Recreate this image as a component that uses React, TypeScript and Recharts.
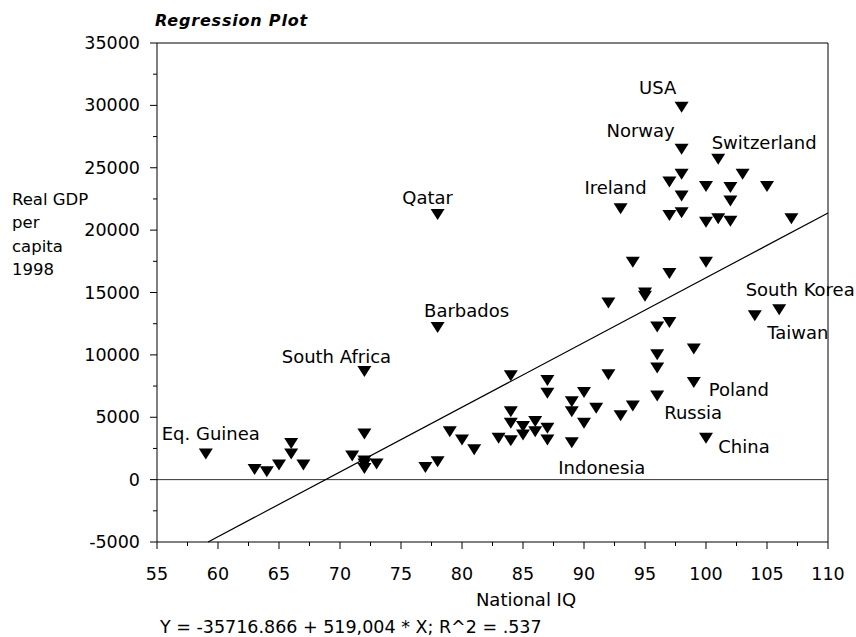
import React from "react";
import { ScatterChart, Scatter, XAxis, YAxis, ReferenceLine } from "recharts";

// National IQ vs Real GDP per capita 1998
const iq = [
  59, 63, 64, 65, 66, 66, 67, 71, 72, 72, 72, 72, 73, 72, 77, 78, 79, 80, 81,
  78, 78, 83, 84, 84, 84, 84, 85, 85, 86, 86, 87, 87, 87, 87, 89, 89, 89, 90,
  90, 91, 92, 93, 94, 96, 96, 96, 96, 97, 99, 99, 100, 104, 106, 92, 95, 95,
  94, 97, 100, 98, 98, 101, 98, 97, 100, 102, 103, 105, 98, 102, 93, 97, 98,
  100, 101, 102, 107,
];
const gdp = [
  2050, 820, 630, 1170, 2900, 2050, 1170, 1890, 3650, 1500, 900, 1250, 1250,
  8670, 980, 1430, 3840, 3180, 2400, 21260, 12200, 3310, 3120, 5450, 4520,
  8320, 3580, 4250, 4650, 3830, 4110, 3170, 6930, 7940, 2960, 5450, 6250,
  4520, 6980, 5720, 8400, 5130, 5910, 6710, 8940, 10010, 12230, 12600, 10470,
  7780, 3310, 13140, 13620, 14160, 14700, 14950, 17430, 16520, 17430, 29840,
  26490, 25680, 24480, 23860, 23490, 23410, 24480, 23490, 22730, 22330,
  21720, 21180, 21400, 20640, 20920, 20720, 20920,
];

const labelNames = [
  "USA", "Norway", "Switzerland", "Ireland", "Qatar", "Barbados",
  "South Africa", "Eq. Guinea", "South Korea", "Taiwan", "Poland", "Russia",
  "China", "Indonesia",
];
const labelIq = [98, 98, 101, 93, 78, 78, 72, 59, 106, 104, 99, 96, 100, 89];
const labelGdp = [
  29840, 26490, 25680, 21720, 21260, 12200, 8670, 2050, 13620, 13140, 7780,
  6710, 3310, 2960,
];

const xMajor = [55, 60, 65, 70, 75, 80, 85, 90, 95, 100, 105, 110];
const xTicks = [
  55, 57.5, 60, 62.5, 65, 67.5, 70, 72.5, 75, 77.5, 80, 82.5, 85, 87.5, 90,
  92.5, 95, 97.5, 100, 102.5, 105, 107.5, 110,
];
const yMajor = [-5000, 0, 5000, 10000, 15000, 20000, 25000, 30000, 35000];
const yTicks = [
  -5000, -2500, 0, 2500, 5000, 7500, 10000, 12500, 15000, 17500, 20000, 22500,
  25000, 27500, 30000, 32500, 35000,
];

const intercept = -35716.866;
const slope = 519.004;

const points = iq.map((v, i) => ({ iq: v, gdp: gdp[i] }));
const labelled = labelNames.map((n, i) => ({ name: n, iq: labelIq[i], gdp: labelGdp[i] }));

// text centre offsets (px) from each labelled marker
const labelOffset: Record<string, [number, number]> = {
  USA: [-24, -20],
  Norway: [-41, -19],
  Switzerland: [46, -17],
  Ireland: [-5, -21],
  Qatar: [-10, -17],
  Barbados: [29, -17],
  "South Africa": [-28, -15],
  "Eq. Guinea": [5, -21],
  "South Korea": [21, -20],
  Taiwan: [43, 17],
  Poland: [45, 7],
  Russia: [36, 17],
  China: [38, 8],
  Indonesia: [30, 25],
};

const FONT = "DejaVu Sans";

function AxisTick(props: any) {
  const { x, y, payload, side } = props;
  const v = payload.value;
  const major = side === "left" || side === "right" ? yMajor.includes(v) : xMajor.includes(v);
  const len = major ? 7 : 4;
  if (side === "left") {
    return (
      <g>
        <line x1={x - len} x2={x} y1={y} y2={y} stroke="#000" />
        {major && (
          <text x={x - 17} y={y} textAnchor="end" dominantBaseline="central" fontSize={17.5} fill="#000" fontFamily={FONT}>
            {v}
          </text>
        )}
      </g>
    );
  }
  if (side === "right") {
    return <line x1={x} x2={x + len} y1={y} y2={y} stroke="#000" />;
  }
  if (side === "top") {
    return <line x1={x} x2={x} y1={y - len} y2={y} stroke="#000" />;
  }
  return (
    <g>
      <line x1={x} x2={x} y1={y} y2={y + len} stroke="#000" />
      {major && (
        <text x={x} y={y + 38} textAnchor="middle" fontSize={17.5} fill="#000" fontFamily={FONT}>
          {v}
        </text>
      )}
    </g>
  );
}

function Triangle(props: any) {
  const { cx, cy } = props;
  return (
    <polygon
      points={`${cx - 7},${cy - 5.5} ${cx + 7},${cy - 5.5} ${cx},${cy + 5.5}`}
      fill="#000"
    />
  );
}

function CountryLabel(props: any) {
  const { cx, cy, payload } = props;
  const off = labelOffset[payload.name] || [0, -18];
  return (
    <text
      x={cx + off[0]}
      y={cy + off[1]}
      textAnchor="middle"
      dominantBaseline="central"
      fontSize={18}
      fontFamily={FONT}
      fill="#000"
    >
      {payload.name}
    </text>
  );
}

export default function App() {
  const xStart = (-5000 - intercept) / slope;
  return (
    <div style={{ position: "absolute", left: 0, top: 0, width: 856, height: 637, background: "#fff", fontFamily: FONT }}>
      <ScatterChart width={856} height={637} margin={{ top: 42, right: 27, bottom: 65, left: 97 }}>
        <XAxis
          dataKey="iq"
          type="number"
          domain={[55, 110]}
          ticks={xTicks}
          interval={0}
          height={30}
          tickSize={0}
          tickMargin={0}
          tickLine={false}
          axisLine={{ stroke: "#000" }}
          tick={(p: any) => <AxisTick {...p} side="bottom" />}
        />
        <XAxis
          xAxisId="top"
          orientation="top"
          type="number"
          domain={[55, 110]}
          ticks={xTicks}
          interval={0}
          height={1}
          tickSize={0}
          tickMargin={0}
          tickLine={false}
          axisLine={{ stroke: "#000" }}
          tick={(p: any) => <AxisTick {...p} side="top" />}
        />
        <YAxis
          dataKey="gdp"
          type="number"
          domain={[-5000, 35000]}
          ticks={yTicks}
          interval={0}
          width={60}
          tickSize={0}
          tickMargin={0}
          tickLine={false}
          axisLine={{ stroke: "#000" }}
          tick={(p: any) => <AxisTick {...p} side="left" />}
        />
        <YAxis
          yAxisId="right"
          orientation="right"
          type="number"
          domain={[-5000, 35000]}
          ticks={yTicks}
          interval={0}
          width={1}
          tickSize={0}
          tickMargin={0}
          tickLine={false}
          axisLine={{ stroke: "#000" }}
          tick={(p: any) => <AxisTick {...p} side="right" />}
        />
        <ReferenceLine y={0} stroke="#333" strokeWidth={1} />
        <ReferenceLine
          segment={[
            { x: xStart, y: -5000 },
            { x: 110, y: intercept + slope * 110 },
          ]}
          stroke="#000"
          strokeWidth={1.2}
        />
        <Scatter data={points} shape={(p: any) => <Triangle {...p} />} isAnimationActive={false} />
        <Scatter data={labelled} shape={(p: any) => <CountryLabel {...p} />} isAnimationActive={false} />
      </ScatterChart>
      <svg width={856} height={637} style={{ position: "absolute", left: 0, top: 0, pointerEvents: "none" }}>
        <text x={155} y={26} fontSize={16} fontWeight="bold" fontStyle="italic" letterSpacing={0.8} fontFamily={FONT}>
          Regression Plot
        </text>
        <g fontSize={16.5} fontFamily={FONT}>
          <text x={12} y={205}>Real GDP</text>
          <text x={12} y={228}>per</text>
          <text x={12} y={252}>capita</text>
          <text x={12} y={275}>1998</text>
        </g>
        <text x={526} y={606} textAnchor="middle" fontSize={18} fontFamily={FONT}>
          National IQ
        </text>
        <text x={160} y={633} fontSize={17.5} fontFamily={FONT}>
          Y = -35716.866 + 519,004 * X; R^2 = .537
        </text>
      </svg>
    </div>
  );
}
